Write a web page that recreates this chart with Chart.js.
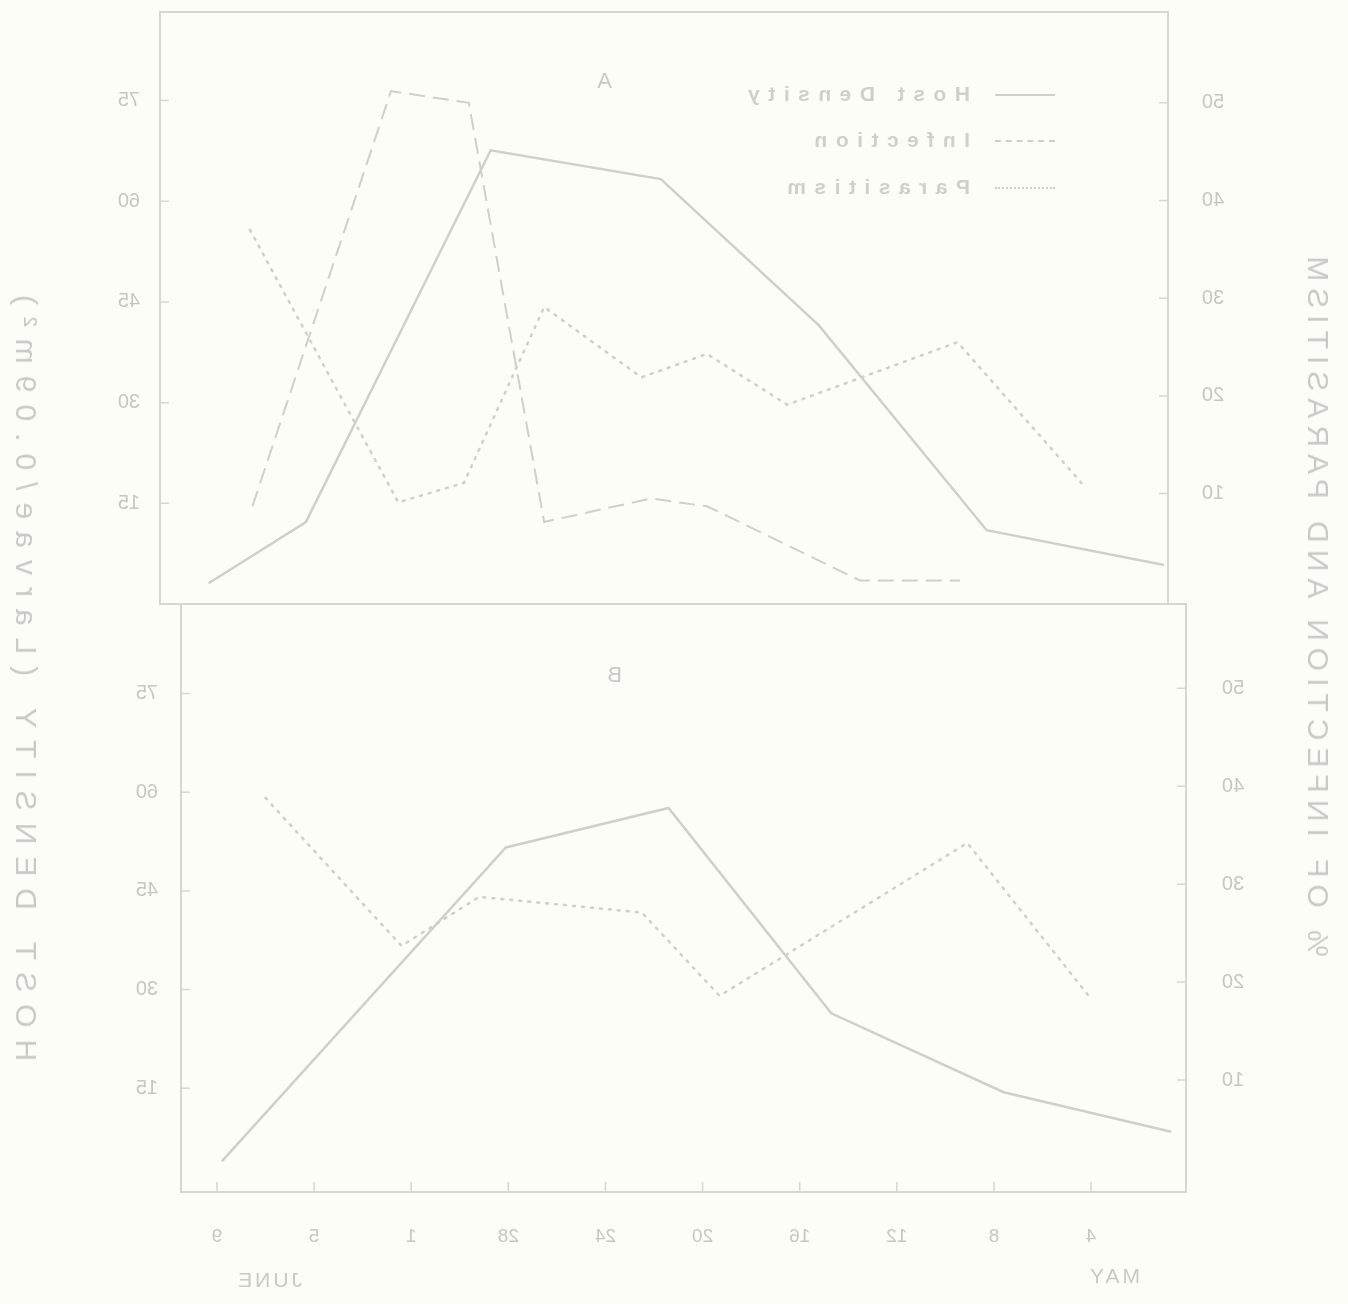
<!DOCTYPE html>
<html>
<head>
<meta charset="utf-8">
<script src="https://cdn.jsdelivr.net/npm/chart.js@4.4.1/dist/chart.umd.min.js"></script>
<style>
  html, body { margin: 0; padding: 0; background: #fdfdf8; overflow: hidden; }
  /* the scanned figure is printed mirror-wise, so the whole sheet is flipped */
  #sheet { position: relative; width: 1348px; height: 1304px; transform: scaleX(-1); font-family: "Liberation Sans", Arial, sans-serif; color: #c9c9c6; }
  .cv { position: absolute; left: 0; }
  #wrapA { top: 0; width: 1348px; height: 616px; }
  #wrapB { top: 590px; width: 1348px; height: 714px; }
  .lbl { position: absolute; white-space: nowrap; }
  .vtitle { position: absolute; white-space: nowrap; transform: translate(-50%, -50%) rotate(-90deg); font-size: 30px; }
  .leg { position: absolute; left: 293px; font-size: 21px; letter-spacing: 8.5px; font-weight: bold; color: #cfcfcb; }
  .leg span.ln { display: inline-block; width: 60px; vertical-align: middle; margin-right: 25px; border-top: 2px solid #cfcfcb; }
</style>
</head>
<body>
<div id="sheet">
  <div class="cv" id="wrapA"><canvas id="chartA"></canvas></div>
  <div class="cv" id="wrapB"><canvas id="chartB"></canvas></div>

  <div class="lbl" style="left:736px; top:68px; font-size:22px;">A</div>
  <div class="lbl" style="left:726px; top:662px; font-size:22px;">B</div>

  <div class="leg" style="top:82px;"><span class="ln"></span>Host Density</div>
  <div class="leg" style="top:128px;"><span class="ln" style="border-top-style:dashed;"></span>Infection</div>
  <div class="leg" style="top:175px;"><span class="ln" style="border-top-style:dotted;"></span>Parasitism</div>

  <div class="vtitle" style="left:30px; top:603px; letter-spacing:7px;">% OF INFECTION AND PARASITISM</div>
  <div class="vtitle" style="left:1322px; top:672px; letter-spacing:12px;">HOST DENSITY (Larvae/0.09m²)</div>

  <div class="lbl" style="left:1046px; top:1268px; font-size:21px; letter-spacing:3px;">JUNE</div>
  <div class="lbl" style="left:208px; top:1264px; font-size:21px; letter-spacing:3px;">MAY</div>
</div>

<script>
// ======================================================
// Data (x = day counted from 1 May; 1 June = 32)
// ======================================================
const dayTicks = [4, 8, 12, 16, 20, 24, 28, 32, 36, 40];
const dayLabels = ['4', '8', '12', '16', '20', '24', '28', '1', '5', '9'];
const hostTicks = [15, 30, 45, 60, 75];
const pctTicks = [10, 20, 30, 40, 50];

// panel A
const hostDaysA = [39.8, 35.8, 28.2, 21.2, 14.7, 7.8, 0.5];
const hostA = [3.1, 12.2, 67.6, 63.3, 41.5, 11.0, 5.8];
const infDaysA = [38.0, 32.3, 29.1, 26.0, 21.6, 19.3, 13.0, 8.9];
const infA = [8.7, 51.2, 50.0, 7.1, 9.5, 8.7, 1.1, 1.1];
const parDaysA = [38.1, 32.0, 29.3, 26.0, 22.0, 19.3, 16.0, 9.0, 3.9];
const parA = [37.0, 9.1, 11.1, 29.1, 21.9, 24.3, 19.1, 25.5, 11.1];

// panel B
const hostDaysB = [39.8, 28.1, 21.4, 14.7, 7.6, 0.7];
const hostB = [3.9, 51.6, 57.6, 26.4, 14.4, 8.4];
const parDaysB = [38.0, 32.4, 29.2, 22.5, 19.3, 9.1, 4.1];
const parB = [38.8, 23.7, 28.7, 27.1, 18.6, 34.2, 18.6];

const INK = '#cfcfcb';
const TXT = '#c6c6c2';

function pts(xs, ys) {
    return xs.map((x, i) => ({ x: x, y: ys[i] }));
}

// box round the plot area + short inward ticks
const boxPlugin = {
    id: 'box',
    afterDraw(chart) {
        const a = chart.chartArea;
        const ctx = chart.ctx;
        ctx.save();
        ctx.strokeStyle = '#d6d6d2';
        ctx.lineWidth = 2;
        ctx.strokeRect(a.left, a.top, a.right - a.left, a.bottom - a.top);
        ctx.lineWidth = 1.5;
        const yp = chart.scales.yP, yh = chart.scales.yH, x = chart.scales.x;
        ctx.beginPath();
        yp.ticks.forEach(t => { const y = yp.getPixelForValue(t.value); ctx.moveTo(a.left, y); ctx.lineTo(a.left + 9, y); });
        yh.ticks.forEach(t => { const y = yh.getPixelForValue(t.value); ctx.moveTo(a.right, y); ctx.lineTo(a.right - 9, y); });
        if (chart.options.scales.x.display) {
            x.ticks.forEach(t => { const px = x.getPixelForValue(t.value); ctx.moveTo(px, a.bottom); ctx.lineTo(px, a.bottom - 10); });
        }
        ctx.stroke();
        ctx.restore();
    }
};

function makeChart(id, cfg) {
    const datasets = [
        { label: 'Host Density', data: pts(cfg.hostDays, cfg.host), yAxisID: 'yH',
          borderColor: INK, borderWidth: 2.5 }
    ];
    if (cfg.infDays) {
        datasets.push({ label: 'Infection', data: pts(cfg.infDays, cfg.inf), yAxisID: 'yP',
          borderColor: INK, borderWidth: 2, borderDash: [16, 8] });
    }
    datasets.push({ label: 'Parasitism', data: pts(cfg.parDays, cfg.par), yAxisID: 'yP',
          borderColor: INK, borderWidth: 2.5, borderDash: [2, 7], borderCapStyle: 'round' });

    datasets.forEach(d => { d.pointRadius = 0; d.tension = 0; d.fill = false; });

    return new Chart(document.getElementById(id), {
        type: 'line',
        data: { datasets: datasets },
        plugins: [boxPlugin],
        options: {
            responsive: false,
            animation: false,
            devicePixelRatio: 1,
            layout: { padding: { top: cfg.padTop, bottom: cfg.padBottom, left: 0, right: 0 } },
            plugins: { legend: { display: false }, tooltip: { enabled: false } },
            scales: {
                x: {
                    type: 'linear', min: cfg.xMin, max: cfg.xMax,
                    display: cfg.showX,
                    grid: { display: false, drawTicks: false },
                    border: { display: false },
                    afterBuildTicks: s => { s.ticks = dayTicks.map(v => ({ value: v })); },
                    afterFit: s => {
                        if (cfg.showX) s.height = cfg.xHeight;
                        s.paddingLeft = 0; s.paddingRight = 0;
                    },
                    ticks: {
                        autoSkip: false, maxRotation: 0, padding: 33, color: TXT,
                        font: { family: 'Liberation Sans', size: 19 },
                        callback: v => dayLabels[dayTicks.indexOf(v)]
                    }
                },
                yP: {
                    type: 'linear', position: 'left', min: cfg.pMin, max: cfg.pMax,
                    grid: { display: false, drawTicks: false },
                    border: { display: false },
                    afterBuildTicks: s => { s.ticks = pctTicks.map(v => ({ value: v })); },
                    afterFit: s => { s.width = cfg.leftW; s.paddingTop = 0; s.paddingBottom = 0; },
                    ticks: { padding: cfg.padP, color: TXT, font: { family: 'Liberation Sans', size: 20 } }
                },
                yH: {
                    type: 'linear', position: 'right', min: cfg.hMin, max: cfg.hMax,
                    grid: { display: false, drawTicks: false },
                    border: { display: false },
                    afterBuildTicks: s => { s.ticks = hostTicks.map(v => ({ value: v })); },
                    afterFit: s => { s.width = cfg.rightW; s.paddingTop = 0; s.paddingBottom = 0; },
                    ticks: { padding: cfg.padH, color: TXT, font: { family: 'Liberation Sans', size: 20 } }
                }
            }
        }
    });
}

function sizeCanvas(id, w, h) {
    const c = document.getElementById(id);
    c.width = w; c.height = h;
    c.style.width = w + 'px'; c.style.height = h + 'px';
}

sizeCanvas('chartA', 1348, 616);
sizeCanvas('chartB', 1348, 714);

makeChart('chartA', {
    hostDays: hostDaysA, host: hostA,
    infDays: infDaysA, inf: infA,
    parDays: parDaysA, par: parA,
    xMin: 0.34, xMax: 41.8, showX: false,
    pMin: -1.3, pMax: 59.3, hMin: 0, hMax: 88.2,
    padTop: 12, padBottom: 12, leftW: 180, rightW: 160, padP: 34, padH: 20
});

makeChart('chartB', {
    hostDays: hostDaysB, host: hostB,
    parDays: parDaysB, par: parB,
    xMin: 0.09, xMax: 41.48, showX: true, xHeight: 112,
    pMin: -1.43, pMax: 58.6, hMin: -0.76, hMax: 88.6,
    padTop: 14, padBottom: 0, leftW: 162, rightW: 181, padP: 36, padH: 23
});
</script>
</body>
</html>
